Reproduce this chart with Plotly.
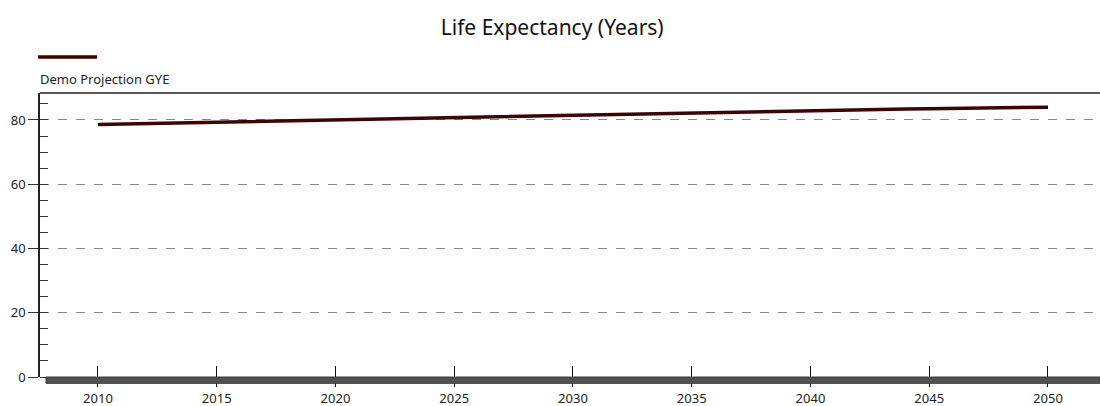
import plotly.graph_objects as go

years = list(range(2010, 2051))
life_expectancy = [
    78.6, 78.75, 78.9, 79.05, 79.2, 79.35, 79.5, 79.65, 79.8, 79.95,
    80.1, 80.25, 80.4, 80.55, 80.7, 80.85, 81.0, 81.15, 81.3, 81.45,
    81.6, 81.74, 81.88, 82.02, 82.16, 82.3, 82.44, 82.58, 82.72, 82.86,
    83.0, 83.11, 83.22, 83.32, 83.42, 83.52, 83.62, 83.72, 83.81, 83.9,
    84.0,
]
series_name = "Demo Projection GYE"
x_ticks = [2010, 2015, 2020, 2025, 2030, 2035, 2040, 2045, 2050]

line_col = "#3a0505"
font = "Noto Sans, Open Sans, sans-serif"

fig = go.Figure()
fig.add_trace(go.Scatter(x=years, y=life_expectancy, mode="lines", name=series_name,
                         line=dict(color=line_col, width=3.5), showlegend=False))
# invisible trace so the overlay axis (inside ticks) is drawn
fig.add_trace(go.Scatter(x=[years[0]], y=[life_expectancy[0]], xaxis="x2", mode="markers",
                         marker=dict(opacity=0), showlegend=False, hoverinfo="skip"))

xr = [2007.56, 2052.19]
fig.update_layout(
    width=1100, height=406,
    margin=dict(l=40, r=0, t=93, b=29),
    paper_bgcolor="white", plot_bgcolor="white",
    font=dict(family=font, size=13, color="#222"),
    title=dict(text="Life Expectancy (Years)", x=0.502, xanchor="center",
               y=1 - 28 / 406, yanchor="middle", font=dict(size=21, color="#111")),
    xaxis=dict(range=xr, tickvals=x_ticks, ticks="outside", ticklen=9, tickcolor="#111",
               tickwidth=1, showgrid=False, zeroline=False, showline=False, automargin=False),
    xaxis2=dict(range=xr, overlaying="x", tickvals=x_ticks, ticks="inside", ticklen=11,
                tickcolor="#111", showticklabels=False, showgrid=False, zeroline=False,
                showline=False, automargin=False),
    yaxis=dict(range=[0, 88.4], dtick=20, ticks="outside", ticklen=10, tickcolor="#333",
               showline=True, linecolor="#222", linewidth=1.5, zeroline=False, automargin=False,
               showgrid=True, gridcolor="#888", griddash="dash", gridwidth=1,
               minor=dict(ticks="inside", dtick=5, ticklen=8, tickcolor="#333", showgrid=False)),
    shapes=[
        # thick bottom bar
        dict(type="rect", xref="paper", yref="paper", x0=6 / 1060, x1=1, y0=-6.3 / 284, y1=0,
             fillcolor="#525252", line=dict(color="#3a3a3a", width=1), layer="above"),
        # top border
        dict(type="line", xref="paper", yref="paper", x0=0, x1=1, y0=1, y1=1,
             line=dict(color="#222", width=1.5)),
        # legend swatch
        dict(type="line", xref="paper", yref="paper", x0=-2 / 1060, x1=57 / 1060,
             y0=(377 - 57) / 284, y1=(377 - 57) / 284, line=dict(color=line_col, width=3.5)),
    ],
    annotations=[
        dict(text=series_name, xref="paper", yref="paper", x=-2 / 1060, y=(377 - 79) / 284,
             xanchor="left", yanchor="middle", showarrow=False, font=dict(size=13, color="#222")),
    ],
)

fig.write_html("out.html", config={"displayModeBar": False},
               post_script="document.body.style.margin='0';")
